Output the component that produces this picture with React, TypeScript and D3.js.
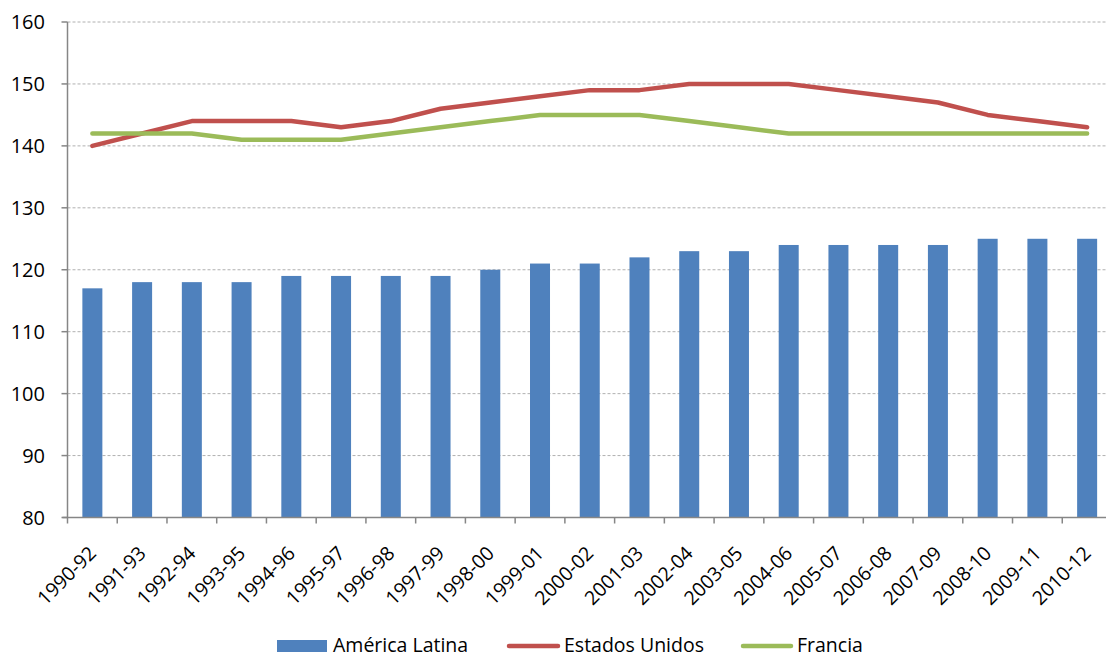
import React from "react";
import * as d3 from "d3";

const categories = ["1990-92","1991-93","1992-94","1993-95","1994-96","1995-97","1996-98","1997-99","1998-00","1999-01","2000-02","2001-03","2002-04","2003-05","2004-06","2005-07","2006-08","2007-09","2008-10","2009-11","2010-12"];
const americaLatina = [117,118,118,118,119,119,119,119,120,121,121,122,123,123,124,124,124,124,125,125,125];
const estadosUnidos = [140,142,144,144,144,143,144,146,147,148,149,149,150,150,150,149,148,147,145,144,143];
const francia = [142,142,142,141,141,141,142,143,144,145,145,145,144,143,142,142,142,142,142,142,142];
const yTicks = [80,90,100,110,120,130,140,150,160];

const W = 1106, H = 657;
const left = 67.5, right = 1112, top = 22, bottom = 517.5;
const font = "'Open Sans', sans-serif";

export default function App() {
  const xb = d3.scaleBand<string>().domain(categories).range([left, right]);
  const y = d3.scaleLinear().domain([80, 160]).range([bottom, top]);
  const cxOf = (c: string) => (xb(c) as number) + xb.bandwidth() / 2;
  const line = d3.line<number>().x((_, i) => cxOf(categories[i])).y(d => y(d));
  return (
    <svg width={W} height={H} style={{ position: "absolute", left: 0, top: 0, background: "#fff" }} fontFamily={font}>
      {yTicks.filter(t => t > 80).map(t => (
        <line key={t} x1={left} x2={W} y1={y(t)} y2={y(t)} stroke="#b0b0b0" strokeWidth={1} strokeDasharray="3,2" />
      ))}
      {categories.map((c, i) => (
        <rect key={c} x={cxOf(c) - 10} y={y(americaLatina[i])} width={20} height={bottom - y(americaLatina[i])} fill="#4F81BD" />
      ))}
      <path d={line(estadosUnidos) || ""} fill="none" stroke="#C0504D" strokeWidth={4.5} strokeLinecap="round" strokeLinejoin="round" />
      <path d={line(francia) || ""} fill="none" stroke="#9BBB59" strokeWidth={4.5} strokeLinecap="round" strokeLinejoin="round" />
      <line x1={left} x2={left} y1={top} y2={bottom} stroke="#868686" strokeWidth={1.5} />
      <line x1={left - 5} x2={W} y1={bottom} y2={bottom} stroke="#868686" strokeWidth={1.5} />
      {yTicks.map(t => (
        <g key={t}>
          <line x1={left - 6} x2={left} y1={y(t)} y2={y(t)} stroke="#868686" strokeWidth={1.5} />
          <text x={45} y={y(t)} dy="0.36em" textAnchor="end" fontSize={20} fill="#000">{t}</text>
        </g>
      ))}
      {categories.map(c => (
        <line key={c} x1={xb(c) as number} x2={xb(c) as number} y1={bottom} y2={bottom + 6} stroke="#868686" strokeWidth={1.5} />
      ))}
      {categories.map(c => (
        <text key={c} transform={`translate(${cxOf(c) + 5},${bottom + 37}) rotate(-45)`} textAnchor="end" fontSize={19.5} fill="#000">{c}</text>
      ))}
      <g fontSize={19.5} fill="#000">
        <rect x={277} y={640} width={50} height={12} fill="#4F81BD" />
        <text x={333} y={652}>América Latina</text>
        <line x1={509} x2={558} y1={646} y2={646} stroke="#C0504D" strokeWidth={4.5} strokeLinecap="round" />
        <text x={564} y={652}>Estados Unidos</text>
        <line x1={743} x2={791} y1={646} y2={646} stroke="#9BBB59" strokeWidth={4.5} strokeLinecap="round" />
        <text x={797} y={652}>Francia</text>
      </g>
    </svg>
  );
}
